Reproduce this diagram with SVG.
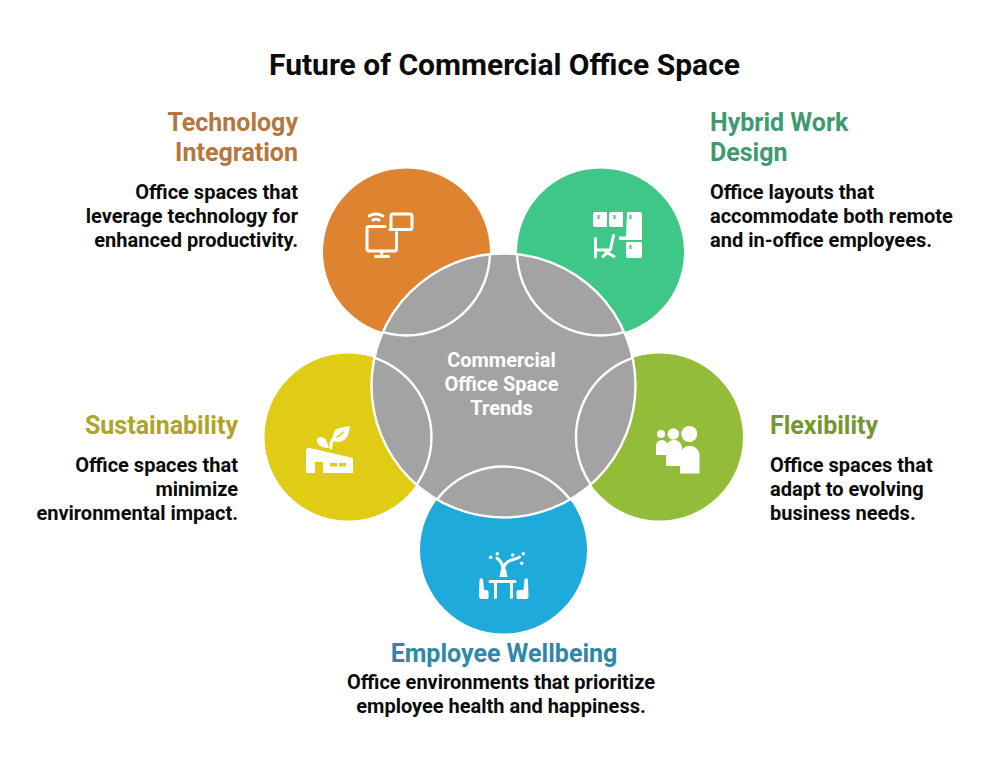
<svg xmlns="http://www.w3.org/2000/svg" width="996" height="766" viewBox="0 0 996 766">
<style>
text{font-family:Roboto,"Liberation Sans",sans-serif;font-weight:700}
.t{font-size:25px}.b{font-size:20px;fill:#0b0b0b}
.e{text-anchor:end}.m{text-anchor:middle}
.arc{fill:none;stroke:#fff;stroke-width:2.400;clip-path:url(#hub)}
.i{fill:#fff}.l{fill:none;stroke:#fff;stroke-width:3;stroke-linecap:round;stroke-linejoin:round}
</style>
<defs><clipPath id="hub"><circle cx="503.500" cy="385.500" r="132"/></clipPath></defs>
<rect width="996" height="766" fill="#fff"/>
<text x="504.500" y="75" class="m" font-size="30" fill="#0b0b0b">Future of Commercial Office Space</text>
<g id="connectors"></g>
<g id="node-technology">
<circle cx="406.500" cy="252" r="83.500" fill="#de8431"/>
<path class="l" d="M385 226.500h-16.500a1.500 1.500 0 0 0-1.500 1.500v21.500a1.500 1.500 0 0 0 1.500 1.500h26.500a1.500 1.500 0 0 0 1.500-1.500v-17M381.700 251v5.500M375.500 256.500h13"/>
<path class="l" stroke-width="2.500" d="M369 216q7-4 14 0"/>
<path class="l" stroke-width="2.500" d="M373 220q3-1.500 6 0"/>
<path class="l" stroke-width="2.500" d="M391 228v-12a2 2 0 0 1 2-2h17a2 2 0 0 1 2 2v12"/>
<path class="l" stroke-width="3.500" d="M390 229.500h21.500"/>
</g>
<g id="node-hybrid">
<circle cx="600.500" cy="252" r="83.500" fill="#3ec787"/>
<path class="i" fill-rule="evenodd" d="M595 212h12v15h-12a2 2 0 0 1-2-2v-11a2 2 0 0 1 2-2zM597.500 215v4h2v-4zM611 212h12v15h-12a2 2 0 0 1-2-2v-11a2 2 0 0 1 2-2zM613.500 215v4h2v-4zM627 212h13a2 2 0 0 1 2 2v26h-23v-3.500h7zM629.500 215v4h2v-4zM626 242h16v14a2 2 0 0 1-2 2h-12a2 2 0 0 1-2-2zM629.500 245v4h2v-4z"/>
<path class="l" d="M595.500 238.500v18.500M596 250h14M613.500 235.500l-3 14M610 250l-7 6.500M606 252l8 4.500"/>
</g>
<g id="node-sustainability">
<circle cx="348" cy="437" r="83.500" fill="#e0cc15"/>
<path class="i" fill-rule="evenodd" d="M306 449.500q1-2 4-1.500l43 10v15h-30v-11h-8v11h-9zM330 463v3.500h7v-3.500zM339 463v3.500h7v-3.500z"/>
<path class="i" d="M317 438q7-2 9 2t3 8q-7 0-10-3t-2-7z"/>
<path class="l" stroke-width="2" d="M331 448q-1-5 3-10"/>
<path class="i" d="M350 426q-1 11-6 14q-4 3-9 1.500q-2-1-2-4q0-7 5-9q5-2 12-2.500z"/>
<path fill="none" stroke="#e0cc15" stroke-width="1.500" stroke-linecap="round" d="M337 437q3-1 6-5"/>
</g>
<g id="node-flexibility">
<circle cx="659.500" cy="437" r="83.500" fill="#93bc39"/>
<circle class="i" cx="661" cy="434" r="4"/><circle class="i" cx="673.300" cy="434" r="5.800"/><circle class="i" cx="689.300" cy="434" r="8"/>
<path class="i" d="M656 455v-9a6 6 0 0 1 12 0v9zM666 466v-18a8 8 0 0 1 16 0v18zM680 473.500v-20a10 10 0 0 1 19.500 0v20z"/>
</g>
<g id="node-wellbeing">
<circle cx="503.500" cy="550" r="83.500" fill="#1eabdb"/>
<path class="i" d="M499.500 577l1.500-8h5l1.500 8z"/>
<path class="l" stroke-width="3" d="M503 569q0-6-6-11M503.500 569q1-7 8-9t8-3"/>
<circle class="i" cx="490.700" cy="557.300" r="1.800"/><circle class="i" cx="497.300" cy="553.700" r="1.800"/><circle class="i" cx="512.700" cy="555" r="1.800"/><circle class="i" cx="523.300" cy="553.700" r="1.800"/><circle class="i" cx="521.700" cy="563.300" r="1.800"/>
<path class="l" d="M490 581.500h25M495.500 582v15.500M511.500 582v15.500"/>
<path class="i" d="M479.500 580a1.800 1.800 0 0 1 3.600 0l1 10h2.400a2 2 0 0 1 2 2v5.500a1.500 1.500 0 0 1-1.500 1.500h-5a3 3 0 0 1-3-3z"/>
<path class="i" d="M528 580a1.800 1.800 0 0 0-3.600 0l-1 10h-4.900a2 2 0 0 0-2 2v5.500a1.500 1.500 0 0 0 1.500 1.500h7.500a3 3 0 0 0 3-3z"/>
</g>
<g id="node-hub">
<circle cx="503.500" cy="385.500" r="132" fill="#a3a3a3" stroke="#fff" stroke-width="2.400"/>
<circle class="arc" cx="406.500" cy="252" r="83.500"/>
<circle class="arc" cx="600.500" cy="252" r="83.500"/>
<circle class="arc" cx="348" cy="437" r="83.500"/>
<circle class="arc" cx="659.500" cy="437" r="83.500"/>
<circle class="arc" cx="503.500" cy="550" r="83.500"/>
<text x="501.500" y="366.500" class="m" font-size="20" fill="#fff">Commercial</text>
<text x="501.500" y="390.500" class="m" font-size="20" fill="#fff">Office Space</text>
<text x="501.500" y="414.500" class="m" font-size="20" fill="#fff">Trends</text>
</g>
<g id="text-technology">
<text x="298" y="131" class="t e" fill="#b5763f">Technology</text>
<text x="298" y="161" class="t e" fill="#b5763f">Integration</text>
<text x="298" y="198.500" class="b e">Office spaces that</text>
<text x="298" y="222.500" class="b e">leverage technology for</text>
<text x="298" y="246.500" class="b e">enhanced productivity.</text>
</g>
<g id="text-hybrid">
<text x="710" y="131" class="t" fill="#3f9a6f">Hybrid Work</text>
<text x="710" y="161" class="t" fill="#3f9a6f">Design</text>
<text x="710" y="198.500" class="b">Office layouts that</text>
<text x="710" y="222.500" class="b">accommodate both remote</text>
<text x="710" y="246.500" class="b">and in-office employees.</text>
</g>
<g id="text-sustainability">
<text x="238" y="434" class="t e" fill="#b0a32a">Sustainability</text>
<text x="238" y="471.500" class="b e">Office spaces that</text>
<text x="238" y="495.500" class="b e">minimize</text>
<text x="238" y="519.500" class="b e">environmental impact.</text>
</g>
<g id="text-flexibility">
<text x="770" y="434" class="t" fill="#769632">Flexibility</text>
<text x="770" y="471.500" class="b">Office spaces that</text>
<text x="770" y="495.500" class="b">adapt to evolving</text>
<text x="770" y="519.500" class="b">business needs.</text>
</g>
<g id="text-wellbeing">
<text x="504" y="662" class="t m" fill="#2f88a8">Employee Wellbeing</text>
<text x="501" y="688.500" class="b m">Office environments that prioritize</text>
<text x="501" y="712.500" class="b m">employee health and happiness.</text>
</g>
</svg>
